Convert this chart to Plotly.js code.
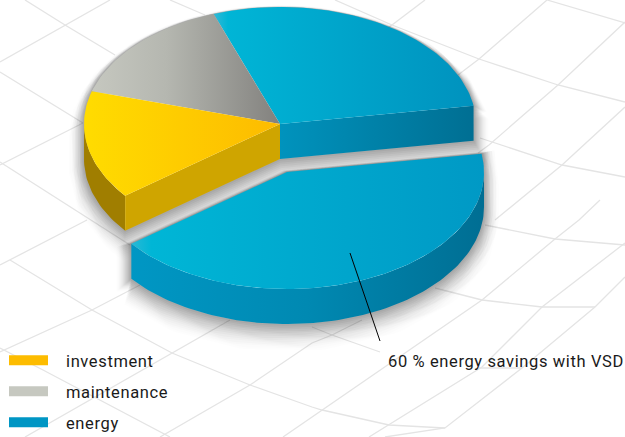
<!DOCTYPE html>
<html><head><meta charset="utf-8">
<script src="https://cdn.plot.ly/plotly-3.0.1.min.js"></script>
<style>
html,body{margin:0;padding:0;background:#fff;overflow:hidden}
#chart{width:625px;height:437px}
.legendtext,.annotation-text{letter-spacing:.62px}
</style></head><body><div id="chart"></div>
<script>
// Data (shares of total cost, %)
var categories = ['investment', 'maintenance', 'energy'];
var categoryColors = ['#fdbc00', '#c6c8c0', '#0096c4'];
var investmentShare = 15;
var maintenanceShare = 15;
var energyRemainingShare = 28;
var energySavedShare = 42;
var calloutText = '60 % energy savings with VSD';

// Faint perspective floor behind the pie (picture-read polylines, pixel space)
var floorLines = [
 [[25,0],[65,25],[115,55]], [[0,62],[65,25],[110,0]], [[0,72],[83,123]], [[0,165],[83,123]],
 [[0,162],[90,220],[130,245]], [[170,0],[205,15]], [[87,220],[10,260],[0,265]],
 [[10,260],[92,310],[172,353],[250,385],[312,407],[322,410],[389,425],[445,428]],
 [[0,352],[92,310],[140,285]], [[25,437],[172,353],[230,320]], [[160,437],[250,385],[312,343],[332,335],[362,320]],
 [[0,348],[43,370],[170,437]], [[283,437],[322,410],[385,367],[482,300],[555,239],[579,220],[600,200]],
 [[335,0],[392,25],[479,59],[558,85],[625,102]], [[547,0],[625,23]], [[425,0],[392,25],[370,40]],
 [[547,0],[479,59],[458,75]], [[625,22],[558,85],[489,145],[478,153]], [[625,107],[562,165],[495,220]],
 [[480,138],[562,165],[625,177]], [[485,225],[555,239],[625,245]], [[435,288],[482,300],[542,307],[595,307]],
 [[625,243],[542,307],[482,367],[389,425],[369,437]], [[625,277],[595,307],[522,368],[445,428],[385,437]],
 [[479,368],[522,368]], [[312,327],[332,335],[380,352]]
];

// Projection of the disc
var RY = 117, DEPTH = 35, START = 9;
var upperC = [280, 124, 196], lowerC = [287, 172, 197];
var total = investmentShare + maintenanceShare + energyRemainingShare + energySavedShare;
function deg(share){ return share / total * 360; }
var a0 = START, a1 = a0 + deg(energyRemainingShare), a2 = a1 + deg(maintenanceShare),
    a3 = a2 + deg(investmentShare), a4 = a3 + deg(energySavedShare);

function pt(c, t, dz){ var r = t * Math.PI / 180; return [c[0] + c[2] * Math.cos(r), c[1] - RY * Math.sin(r) + (dz || 0)]; }
function arc(c, from, to, dz){ var out = [], n = Math.max(2, Math.ceil(Math.abs(to - from) / 1.5));
  for (var i = 0; i <= n; i++) out.push(pt(c, from + (to - from) * i / n, dz)); return out; }
function shift(p, dz){ return [p[0], p[1] + dz]; }
function wedge(c, from, to){ return [c].concat(arc(c, from, to)); }
function band(c, from, to){ return arc(c, from, to, 0).concat(arc(c, to, from, DEPTH)); }
function cutFace(c, t){ var e = pt(c, t); return [c, e, shift(e, DEPTH), shift(c, DEPTH)]; }

var traces = [];
function close(p){ return p.concat([p[0]]); }
function line(p, color, w, name){ traces.push({type:'scatter', mode:'lines', x:p.map(function(q){return q[0]}), y:p.map(function(q){return q[1]}),
  line:{color:color, width:w, shape:'linear'}, hoverinfo:'skip', showlegend:false, name:name||''}); }
function poly(p, stops, x0, x1, name){ var t = {type:'scatter', mode:'lines', x:close(p).map(function(q){return q[0]}), y:close(p).map(function(q){return q[1]}),
  fill:'toself', line:{width:0, color:'rgba(0,0,0,0)'}, hoverinfo:'skip', showlegend:false, name:name||''};
  if (stops.length === 1) t.fillcolor = stops[0][1];
  else { t.fillcolor = stops[0][1]; t.fillgradient = {type:'horizontal', start:x0, stop:x1, colorscale:stops}; }
  traces.push(t); }

floorLines.forEach(function(l){ line(l, '#e4e4e4', 1.3); });

// Soft cast shadows: outline of each block, widened in steps, fading outward
var upperShape = arc(upperC, a0, 180).concat(arc(upperC, 180, a3, DEPTH), [shift(upperC, DEPTH), pt(upperC, a0, DEPTH)]);
var lowerShape = arc(lowerC, a3, 360, DEPTH).concat(arc(lowerC, 360, a4), [lowerC, pt(lowerC, a3)]);
[lowerShape, upperShape].forEach(function(s){
  for (var d = 15; d >= 1; d -= 1) {
    var off = d * 0.85, alpha = 0.006 + 0.042 * (1 - d / 15);
    line(close(s).map(function(q){ return shift(q, off); }), 'rgba(0,0,0,' + alpha.toFixed(3) + ')', 2 * d);
  }
});

// Lower block (energy saved)
poly(band(lowerC, a3, 360), [[0,'#0097c4'],[0.5,'#0089b2'],[1,'#006e93']], 130, 484, 'energy side');
poly(wedge(lowerC, a3, a4), [[0,'#2bb9d6'],[0.06,'#00b6d6'],[1,'#0099c5']], 130, 484, categories[2] + ' saved');

// Upper block: cut faces and outer side
poly(cutFace(upperC, a0), [[0,'#0093bd'],[1,'#006f93']], 280, 473, 'energy cut');
poly(band(upperC, 180, a3), [['0','#a07e00']], 84, 126, 'investment side');
poly(cutFace(upperC, a3), [[0,'#cfa500']], 126, 280, 'investment cut');

// Upper block top faces
poly(wedge(upperC, a0, a1), [[0,'#2db9d6'],[0.05,'#00b5d6'],[1,'#0092be']], 215, 473, categories[2]);
poly(wedge(upperC, a1, a2), [[0,'#c6c8c0'],[0.4,'#b5b7b0'],[1,'#82817e']], 90, 280, categories[1]);
poly(wedge(upperC, a2, a3), [[0,'#ffdc00'],[1,'#fdbb00']], 84, 280, categories[0]);

// Callout leader
line([[350,253],[380,341]], '#000000', 1);

// Legend entries
categories.forEach(function(c, i){
  traces.push({type:'scatter', mode:'lines', x:[null], y:[null], name:c, legendgroup:c, showlegend:true,
    line:{color:categoryColors[i], width:10, dash:'39px,200px'}, hoverinfo:'skip'});
});

Plotly.newPlot('chart', traces, {
  width:625, height:437, margin:{l:0,r:0,t:0,b:0,autoexpand:false}, paper_bgcolor:'#fff', plot_bgcolor:'#fff',
  font:{family:'Roboto, sans-serif', size:16.5, color:'#1a1a1a'},
  xaxis:{range:[0,625], visible:false, fixedrange:true},
  yaxis:{range:[437,0], visible:false, fixedrange:true},
  showlegend:true,
  legend:{x:4/625, xanchor:'left', y:1-343/437, yanchor:'top', itemwidth:52, tracegroupgap:6.5,
    bgcolor:'rgba(0,0,0,0)', borderwidth:0, font:{family:'Roboto, sans-serif', size:16.5, color:'#1a1a1a'}, itemclick:false, itemdoubleclick:false},
  annotations:[{xref:'x', yref:'y', x:386, y:361, xanchor:'left', yanchor:'middle', showarrow:false, text:calloutText,
    font:{family:'Roboto, sans-serif', size:16.5, color:'#1a1a1a'}}]
}, {displayModeBar:false, staticPlot:false});
</script></body></html>
